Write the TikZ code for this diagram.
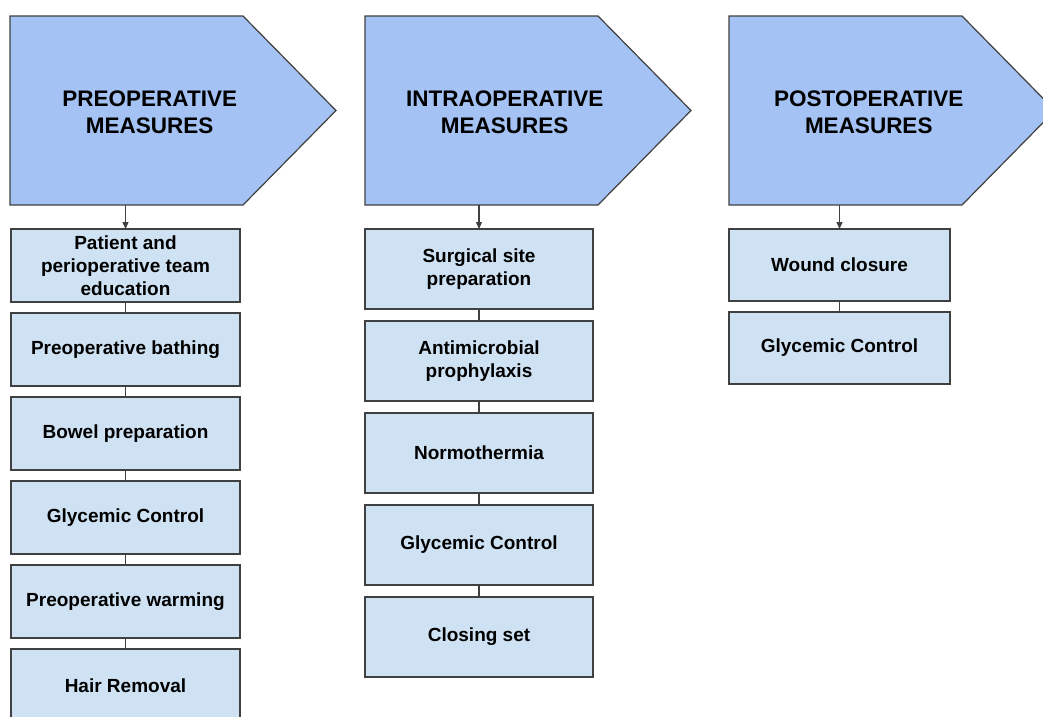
\documentclass[tikz,border=0pt]{standalone}
\usepackage{fontspec}
\setmainfont{Liberation Sans}
\usetikzlibrary{positioning,backgrounds,arrows.meta}
\definecolor{headblue}{HTML}{A4C2F4}
\definecolor{boxblue}{HTML}{CFE2F3}
\definecolor{edgegray}{HTML}{404040}

\begin{document}
\begin{tikzpicture}[x=1pt,y=-1pt,
    head/.style={anchor=west, minimum width=279.5pt, minimum height=189pt,
      inner sep=0pt, outer sep=0pt, align=center,
      font=\bfseries\fontsize{22.5}{27}\selectfont},
    headshape/.style={fill=headblue, draw=edgegray, line width=1.2pt, line join=miter},
    measure/.style={draw=edgegray, line width=1.2pt, fill=boxblue, inner sep=2pt,
      outer sep=0pt, align=center, font=\bfseries\fontsize{19}{23}\selectfont},
    link/.style={draw=edgegray, line width=1.2pt},
    arrowlink/.style={link, -{Triangle[length=7pt,width=6pt]}}]
  \useasboundingbox (0,0) rectangle (1043,716);
  \clip (0,0) rectangle (1043,716);

  % headers
  \node[head] (pre) at (10,112) {PREOPERATIVE\\MEASURES};
  \node[head] (intra) at (365,112) {INTRAOPERATIVE\\MEASURES};
  \node[head] (post) at (729,112) {POSTOPERATIVE\\MEASURES};
  \begin{scope}[on background layer]
    \foreach \h in {pre,intra,post}
      \path[headshape] ([yshift=1.5pt]\h.north west) -- ++(233,0) -- ++(93,94.5)
        -- ++(-93,94.5) -- ([yshift=1.5pt]\h.south west) -- cycle;
  \end{scope}

  % preoperative
  \begin{scope}[every node/.style={measure, minimum width=229pt, minimum height=73pt}]
    \node (pre1) at (125.5,265.5) {Patient and\\perioperative team\\education};
    \node[below=11pt of pre1] (pre2) {Preoperative bathing};
    \node[below=11pt of pre2] (pre3) {Bowel preparation};
    \node[below=11pt of pre3] (pre4) {Glycemic Control};
    \node[below=11pt of pre4] (pre5) {Preoperative warming};
    \node[below=11pt of pre5] (pre6) {Hair Removal};
  \end{scope}

  % intraoperative
  \begin{scope}[every node/.style={measure, minimum width=228pt, minimum height=80pt}]
    \node (intra1) at (479,269) {Surgical site\\preparation};
    \node[below=12pt of intra1] (intra2) {Antimicrobial\\prophylaxis};
    \node[below=12pt of intra2] (intra3) {Normothermia};
    \node[below=12pt of intra3] (intra4) {Glycemic Control};
    \node[below=12pt of intra4] (intra5) {Closing set};
  \end{scope}

  % postoperative
  \begin{scope}[every node/.style={measure, minimum width=221pt, minimum height=72pt}]
    \node (post1) at (839.5,265) {Wound closure};
    \node[below=11pt of post1] (post2) {Glycemic Control};
  \end{scope}

  % connectors
  \foreach \c in {pre,intra,post}
    \draw[arrowlink] ([yshift=1.5pt]\c1.north |- \c.south) -- (\c1.north);
  \foreach \a/\b in {pre1/pre2,pre2/pre3,pre3/pre4,pre4/pre5,pre5/pre6,
      intra1/intra2,intra2/intra3,intra3/intra4,intra4/intra5,post1/post2}
    \draw[link] (\a) -- (\b);
\end{tikzpicture}
\end{document}
